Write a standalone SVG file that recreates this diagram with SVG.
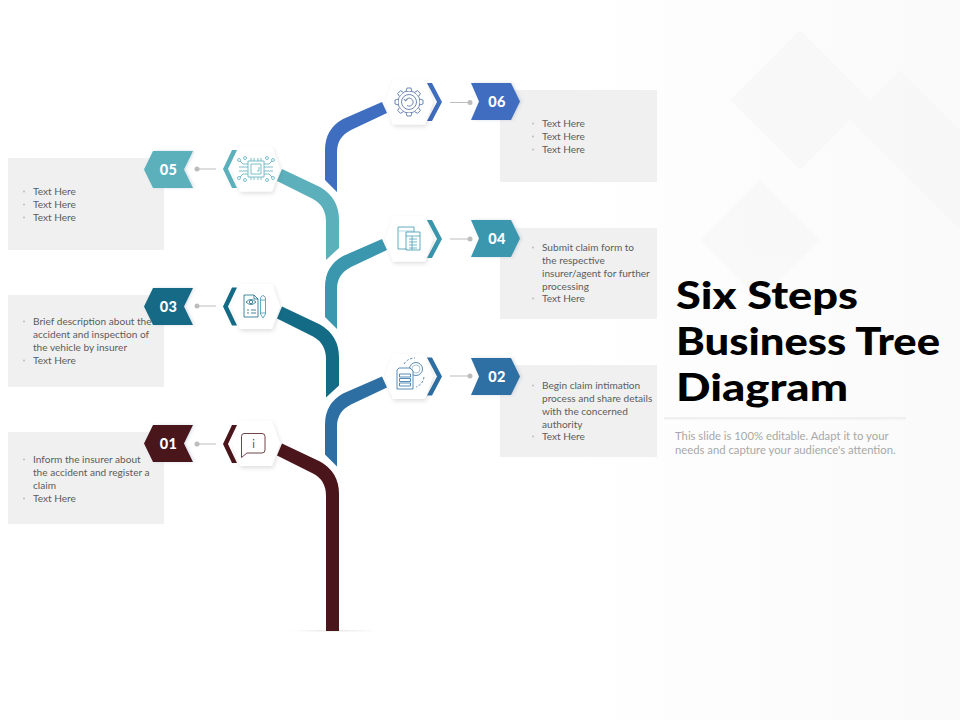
<svg xmlns="http://www.w3.org/2000/svg" xmlns:xlink="http://www.w3.org/1999/xlink" width="960" height="720" viewBox="0 0 960 720">
<style>
.box{fill:#f0f0f0}
.t{font-family:"Lato","Liberation Sans",sans-serif;font-size:10.1px;fill:#5c5c5c}
.b{fill:#bdbdbd}
.n{font-family:"Lato","Open Sans",sans-serif;font-weight:900;font-size:14.5px;fill:#fff;text-anchor:middle;letter-spacing:.4px}
.lnk{stroke:#bdbdbd;stroke-width:1;fill:none}
.dot{fill:#bdbdbd}
.hex{fill:#fff;filter:url(#sh)}
.pent{filter:url(#sh2)}
.title{font-family:"Lato","Liberation Sans",sans-serif;font-weight:900;font-size:38.2px;fill:#000}
.sub{font-family:"Lato","Liberation Sans",sans-serif;font-size:11.3px;fill:#a8a8a8}
.ic{fill:none;stroke-width:.8;stroke-linejoin:round}
.bg{fill:#f6f6f6}
</style>
<defs>
<filter id="sh" x="-30%" y="-30%" width="160%" height="170%"><feDropShadow dx="1" dy="2" stdDeviation="2" flood-color="#000" flood-opacity=".13"/></filter>
<filter id="sh2" x="-20%" y="-20%" width="140%" height="140%"><feDropShadow dx="1.5" dy="0" stdDeviation="1.5" flood-color="#6a7fa0" flood-opacity=".25"/></filter>
<linearGradient id="fade" x1="0" x2="1" y1="0" y2="0"><stop offset="0" stop-color="#fff"/><stop offset=".5" stop-color="#e4e4e4"/><stop offset="1" stop-color="#fff"/></linearGradient>
<linearGradient id="bgf" x1="0" x2="1" y1="0" y2="0"><stop offset="0" stop-color="#fcfcfc" stop-opacity="0"/><stop offset=".5" stop-color="#fcfcfc"/><stop offset="1" stop-color="#fafafa"/></linearGradient>
<polygon id="hx" points="-24,0 -16,-22.5 16,-22.5 24,0 16,22.5 -16,22.5"/>
<path id="br" d="M382,102 L387,113 L351,130 Q337,137 337,152 L337,192 L325,180 L325,150 Q325,129 343,119 Z"/>
<path id="bl" d="M282,169 L277,181 L313,199 Q326,206 326,222 L326,260 L339,248 L339,220 Q339,198 320,187 Z"/>
<polygon id="pr" points="471,83 511,83 520,101.5 511,120 471,120 479,101.5"/>
<polygon id="pl" points="153,151 193,151 184,169.5 193,188 153,188 144,169.5"/>
<polygon id="cr" points="427,83 432,83 442,102 432,121 427,121 437,102"/>
<polygon id="cl" points="237,150 232,150 223,169 232,188 237,188 228,169"/>
<path id="tooth" d="M-2.8,-11 L-2,-14 L2,-14 L2.8,-11"/>
</defs>

<g id="background">
<rect x="570" y="0" width="390" height="720" fill="url(#bgf)"/>
<g class="bg" opacity=".5">
<polygon points="800,30 870,100 800,170 730,100"/>
<polygon points="900,70 960,130 960,230 850,120"/>
<polygon points="760,180 820,240 760,300 700,240"/>
</g>
</g>

<g id="connectors">
<rect x="290" y="630" width="88" height="1.5" fill="url(#fade)"/>
<path d="M282,443.5 L277,455.5 L313,473.5 Q326,480 326,496 L326,631 L339,631 L339,494 Q339,472 320,461.5 Z" fill="#4a151b"/>
<use xlink:href="#br" href="#br" y="274.5" fill="#2e6fa3"/>
<use xlink:href="#bl" href="#bl" y="137.5" fill="#146b85"/>
<use xlink:href="#br" href="#br" y="137" fill="#3a97ae"/>
<use xlink:href="#bl" href="#bl" fill="#5bb0bb"/>
<use xlink:href="#br" href="#br" fill="#3f6dbf"/>
<line class="lnk" x1="450" y1="102.500" x2="470" y2="102.500"/><circle class="dot" cx="470" cy="102.500" r="2.5"/>
<line class="lnk" x1="450" y1="239" x2="470" y2="239"/><circle class="dot" cx="470" cy="239" r="2.5"/>
<line class="lnk" x1="450" y1="376" x2="470" y2="376"/><circle class="dot" cx="470" cy="376" r="2.5"/>
<line class="lnk" x1="197" y1="169" x2="216" y2="169"/><circle class="dot" cx="197" cy="169" r="2.5"/>
<line class="lnk" x1="197" y1="306" x2="216" y2="306"/><circle class="dot" cx="197" cy="306" r="2.5"/>
<line class="lnk" x1="197" y1="444" x2="216" y2="444"/><circle class="dot" cx="197" cy="444" r="2.5"/>
</g>

<g id="node-06">
<rect class="box" x="500" y="90" width="157" height="92"/>
<use href="#pr" class="pent" fill="#3f6dbf"/>
<text class="n" x="497" y="107">06</text>
<use href="#cr" fill="#3f6dbf"/>
<use href="#hx" class="hex" x="409" y="102"/>
<g class="ic" stroke="#4a6aa5" stroke-width=".7" transform="translate(409,102)">
<circle r="11"/>
<g fill="#fff"><use href="#tooth"/><use href="#tooth" transform="rotate(45)"/><use href="#tooth" transform="rotate(90)"/><use href="#tooth" transform="rotate(135)"/><use href="#tooth" transform="rotate(180)"/><use href="#tooth" transform="rotate(225)"/><use href="#tooth" transform="rotate(270)"/><use href="#tooth" transform="rotate(315)"/></g>
<circle r="7.500"/>
<path d="M-3.500,-1.500 A4,4 0 1 1 -2,3.500"/><path d="M-5,-3 L-3.500,-1 L-1.500,-2.500"/>
</g>
<circle class="b" cx="533" cy="123.500" r="1"/><text class="t" x="542" y="127">Text Here</text>
<circle class="b" cx="533" cy="136.500" r="1"/><text class="t" x="542" y="140">Text Here</text>
<circle class="b" cx="533" cy="149.500" r="1"/><text class="t" x="542" y="153">Text Here</text>
</g>

<g id="node-05">
<rect class="box" x="8" y="158" width="156" height="92"/>
<use href="#pl" class="pent" fill="#5bb0bb"/>
<text class="n" x="168.500" y="174.500">05</text>
<use href="#cl" fill="#5bb0bb"/>
<use href="#hx" class="hex" x="256" y="169"/>
<g class="ic" stroke="#5bb0bb" stroke-width=".7">
<rect x="248" y="161" width="16" height="16"/><rect x="251" y="164" width="10" height="10"/><path d="M257,171 H259 V167"/>
<path d="M251,158 V161 M254,158 V161 M258,158 V161 M261,158 V161 M251,177 V180 M254,177 V180 M258,177 V180 M261,177 V180"/>
<path d="M248,164 H243 L240,161 M248,167 H239 M248,171 H239 M248,174 H243 L240,177 M264,164 H269 L272,161 M264,167 H273 M264,171 H273 M264,174 H269 L272,177"/>
<circle cx="245" cy="158" r="1.500"/><circle cx="267" cy="158" r="1.500"/><circle cx="245" cy="180" r="1.500"/><circle cx="267" cy="180" r="1.500"/><circle cx="239" cy="160" r="1.500"/><circle cx="273" cy="160" r="1.500"/><circle cx="239" cy="178" r="1.500"/><circle cx="273" cy="178" r="1.500"/>
</g>
<circle class="b" cx="24" cy="191.500" r="1"/><text class="t" x="33" y="195">Text Here</text>
<circle class="b" cx="24" cy="204.500" r="1"/><text class="t" x="33" y="208">Text Here</text>
<circle class="b" cx="24" cy="217.500" r="1"/><text class="t" x="33" y="221">Text Here</text>
</g>

<g id="node-04">
<rect class="box" x="500" y="228" width="157" height="91"/>
<use href="#pr" y="137" class="pent" fill="#3a97ae"/>
<text class="n" x="497" y="244">04</text>
<use href="#cr" y="137" fill="#3a97ae"/>
<use href="#hx" class="hex" x="409" y="239"/>
<g class="ic" stroke="#3a97ae">
<path d="M407,249 H398 V227 H414 V232" />
<path d="M398,231 H414" stroke="#9fd0dc"/>
<rect x="406" y="232" width="14" height="18" fill="#fff"/>
<path d="M406,236 H420 M409,239 H417 M409,242 H417 M409,245 H417 M409,248 H417 M412,236 V250" stroke-width=".7"/>
</g>
<circle class="b" cx="533" cy="247.500" r="1"/>
<text class="t" x="542" y="251">Submit claim form to</text>
<text class="t" x="542" y="264">the respective</text>
<text class="t" x="542" y="277">insurer/agent for further</text>
<text class="t" x="542" y="290">processing</text>
<circle class="b" cx="533" cy="298.500" r="1"/><text class="t" x="542" y="302">Text Here</text>
</g>

<g id="node-03">
<rect class="box" x="8" y="295" width="156" height="92"/>
<circle class="b" cx="24" cy="321.500" r="1"/>
<text class="t" x="33" y="325">Brief description about the</text>
<text class="t" x="33" y="338">accident and inspection of</text>
<text class="t" x="33" y="351">the vehicle by insurer</text>
<circle class="b" cx="24" cy="360.500" r="1"/><text class="t" x="33" y="364">Text Here</text>
<use href="#pl" y="137" class="pent" fill="#146b85"/>
<text class="n" x="168.500" y="311.500">03</text>
<use href="#cl" y="137.500" fill="#146b85"/>
<use href="#hx" class="hex" x="256" y="306.500"/>
<g class="ic" stroke="#146b85" stroke-width="1">
<path d="M244,295 H254 L258,299 V317 H244 Z M254,295 V299 H258"/>
<path d="M246,302 Q251,297 256,302 Q251,307 246,302 Z"/><circle cx="251" cy="302" r="1.700"/>
<path d="M247,310 H249 M251,310 H256 M247,313 H249 M251,313 H256"/>
<path d="M260.500,298 Q263,293 265.500,298 V314 L263,318 L260.500,314 Z M260.500,300 H265.500 M260.500,313 H265.500" stroke="#3a97ae"/>
</g>
</g>

<g id="node-02">
<rect class="box" x="500" y="365" width="157" height="92"/>
<use href="#pr" y="275" class="pent" fill="#2e6fa3"/>
<text class="n" x="497" y="381.500">02</text>
<use href="#cr" y="274.500" fill="#2e6fa3"/>
<use href="#hx" class="hex" x="409" y="376.500"/>
<g class="ic" stroke="#2e6fa3">
<circle cx="416" cy="369" r="6.500"/><circle cx="416" cy="369" r="4" stroke="#9fbcd4"/>
<path d="M404,364 Q408,358 415,358 M424,377 Q423,384 416,387" stroke-dasharray="2.500 1.500"/>
<path d="M399,368 H410 L413,371 V389 H397 V370 Z" fill="#fff"/>
<rect x="399.500" y="374" width="11" height="3"/><rect x="399.500" y="378.500" width="11" height="3"/><rect x="399.500" y="383" width="11" height="3"/>
</g>
<circle class="b" cx="533" cy="385.500" r="1"/>
<text class="t" x="542" y="389">Begin claim intimation</text>
<text class="t" x="542" y="402">process and share details</text>
<text class="t" x="542" y="415">with the concerned</text>
<text class="t" x="542" y="428">authority</text>
<circle class="b" cx="533" cy="436.500" r="1"/><text class="t" x="542" y="440">Text Here</text>
</g>

<g id="node-01">
<rect class="box" x="8" y="432" width="156" height="92"/>
<circle class="b" cx="24" cy="459.500" r="1"/>
<text class="t" x="33" y="463">Inform the insurer about</text>
<text class="t" x="33" y="476">the accident and register a</text>
<text class="t" x="33" y="489">claim</text>
<circle class="b" cx="24" cy="498.500" r="1"/><text class="t" x="33" y="502">Text Here</text>
<use href="#pl" y="274" class="pent" fill="#4a151b"/>
<text class="n" x="168.500" y="448.500">01</text>
<use href="#cl" y="275" fill="#4a151b"/>
<use href="#hx" class="hex" x="256" y="443.500"/>
<path class="ic" stroke="#4a151b" d="M244,433.500 H262 Q265,433.500 265,436.500 V450 Q265,453 262,453 H247 L241.500,457.500 V436.500 Q241.500,433.500 244,433.500 Z"/>
<text x="253.500" y="448" font-family="Lato,'Liberation Sans',sans-serif" font-size="11" fill="#555" text-anchor="middle">i</text>
</g>

<g id="title">
<rect x="664" y="417" width="242" height="2.500" fill="#f0f0f0"/>
<text class="title" x="676" y="309" textLength="182" lengthAdjust="spacingAndGlyphs">Six Steps</text>
<text class="title" x="676" y="355" textLength="264" lengthAdjust="spacingAndGlyphs">Business Tree</text>
<text class="title" x="676" y="401" textLength="172" lengthAdjust="spacingAndGlyphs">Diagram</text>
<text class="sub" x="675" y="440">This slide is 100% editable. Adapt it to your</text>
<text class="sub" x="675" y="454">needs and capture your audience's attention.</text>
</g>
</svg>
